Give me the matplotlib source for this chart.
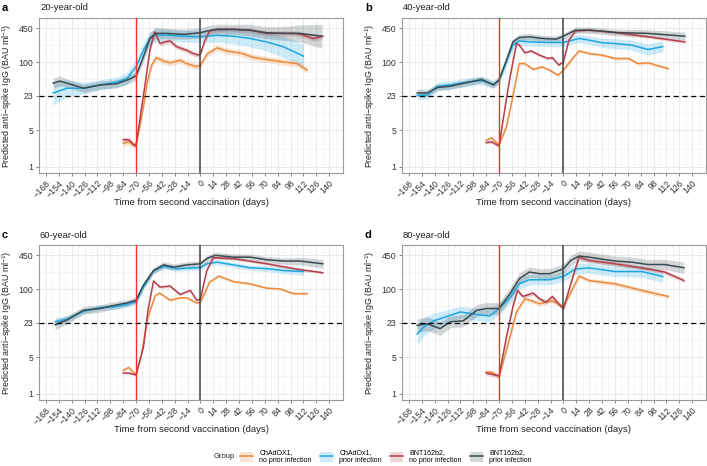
import matplotlib
matplotlib.use('Agg')
import matplotlib.pyplot as plt
from matplotlib.patches import Patch
from matplotlib.lines import Line2D
import numpy as np

plt.rcParams['font.family'] = ['Liberation Sans', 'DejaVu Sans']
plt.rcParams['mathtext.default'] = 'regular'

# ---- data (days from 2nd dose, predicted IgG, ci factor) ----
# panel a, 20-year-old
a_chad_np_day = [-84, -78, -73, -70, -66, -62, -58, -53, -48, -40, -33, -22, -15, -4, 0, 7, 18, 29, 43, 58, 72, 90, 105, 116]
a_chad_np_igg = [2.8, 3.0, 2.6, 2.7, 5.8, 14, 40, 89, 124, 106, 98, 110, 95, 83, 88, 144, 190, 165, 152, 124, 114, 102, 95, 71]
a_chad_np_ci = [1.15] * 24
a_chad_p_day = [-160, -145, -127, -109, -91, -80, -70, -62, -55, -48, -37, -18, 0, 18, 36, 54, 72, 90, 112]
a_chad_p_igg = [26, 32, 32, 37, 42, 49, 82, 171, 288, 333, 333, 318, 310, 330, 318, 288, 247, 200, 132]
a_chad_p_ci = [1.7, 1.45, 1.3, 1.25, 1.25, 1.3, 1.35, 1.35, 1.35, 1.35, 1.3, 1.3, 1.3, 1.35, 1.4, 1.45, 1.5, 1.6, 1.7]
a_bnt_np_day = [-84, -78, -73, -70, -66, -60, -55, -50, -48, -44, -38, -33, -26, -15, -8, -2, 0, 5, 10, 18, 36, 54, 72, 90, 101, 108, 123, 133]
a_bnt_np_igg = [3.3, 3.3, 2.7, 2.5, 7.8, 40, 170, 375, 333, 230, 247, 258, 200, 171, 148, 138, 145, 267, 400, 428, 430, 415, 360, 360, 360, 350, 287, 318]
a_bnt_np_ci = [1.12] * 28
a_bnt_p_day = [-160, -153, -145, -127, -109, -91, -77, -70, -62, -55, -49, -37, -18, 0, 7, 18, 36, 54, 72, 90, 108, 132]
a_bnt_p_igg = [40, 44, 40, 32, 37, 39, 48, 55, 128, 288, 360, 360, 345, 370, 400, 430, 430, 415, 370, 360, 360, 318]
a_bnt_p_ci = [1.25, 1.25, 1.2, 1.2, 1.2, 1.2, 1.2, 1.2, 1.25, 1.3, 1.3, 1.25, 1.25, 1.25, 1.25, 1.25, 1.25, 1.3, 1.3, 1.35, 1.45, 1.7]

# panel b, 40-year-old
b_chad_np_day = [-84, -78, -70, -62, -55, -48, -42, -33, -23, -15, -6, 0, 10, 17, 28, 42, 56, 71, 81, 92, 114]
b_chad_np_igg = [3.2, 3.6, 2.6, 5.8, 22, 95, 95, 74, 82, 71, 57, 71, 119, 166, 148, 138, 119, 119, 95, 98, 76]
b_chad_np_ci = [1.07] * 21
b_chad_p_day = [-159, -148, -137, -123, -105, -89, -76, -70, -62, -55, -48, -37, -15, 0, 17, 28, 42, 56, 74, 92, 108]
b_chad_p_igg = [23.6, 23.6, 35, 37, 42, 45, 38, 46, 103, 215, 258, 247, 241, 241, 288, 267, 238, 230, 215, 177, 200]
b_chad_p_ci = [1.2] * 14 + [1.2, 1.2, 1.22, 1.25, 1.25, 1.28, 1.28]
b_bnt_np_day = [-84, -78, -70, -64, -58, -51, -48, -42, -35, -26, -17, -12, -5, 0, 6, 13, 28, 56, 92, 132]
b_bnt_np_igg = [2.9, 3.0, 2.5, 12, 53, 230, 215, 153, 166, 138, 119, 124, 89, 103, 267, 400, 415, 375, 310, 247]
b_bnt_np_ci = [1.07] * 20
b_bnt_p_day = [-159, -148, -137, -123, -105, -89, -76, -70, -62, -55, -48, -37, -23, -8, 0, 13, 28, 42, 56, 92, 132]
b_bnt_p_igg = [26, 26, 33, 35, 41, 47, 37, 46, 110, 247, 300, 310, 288, 280, 318, 415, 415, 398, 375, 360, 318]
b_bnt_p_ci = [1.2, 1.18, 1.15, 1.15, 1.15, 1.15, 1.15, 1.15, 1.15, 1.15, 1.15, 1.15, 1.15, 1.15, 1.15, 1.15, 1.15, 1.15, 1.15, 1.18, 1.2]

# panel c, 60-year-old
c_chad_np_day = [-84, -78, -70, -64, -57, -49, -44, -33, -22, -15, -4, 0, 10, 20, 36, 54, 72, 87, 101, 116]
c_chad_np_igg = [2.8, 3.2, 2.3, 5.8, 30, 77, 85, 62, 69, 69, 55, 57, 138, 180, 141, 128, 106, 102, 83, 83]
c_chad_np_ci = [1.06] * 20
c_chad_p_day = [-158, -145, -127, -109, -95, -80, -70, -62, -51, -40, -26, 0, 7, 18, 36, 54, 72, 90, 112]
c_chad_p_igg = [24, 27, 38, 45, 46, 51, 58, 111, 225, 276, 250, 260, 310, 333, 295, 260, 250, 230, 220]
c_chad_p_ci = [1.2, 1.15, 1.12, 1.12, 1.12, 1.12, 1.12, 1.12, 1.12, 1.12, 1.12, 1.12, 1.12, 1.12, 1.12, 1.12, 1.14, 1.15, 1.18]
c_bnt_np_day = [-84, -78, -70, -62, -57, -51, -44, -33, -22, -11, -4, 0, 7, 14, 36, 72, 108, 133]
c_bnt_np_igg = [2.5, 2.5, 2.3, 7.8, 40, 145, 111, 116, 80, 96, 62, 66, 230, 405, 390, 310, 240, 209]
c_bnt_np_ci = [1.06] * 18
c_bnt_p_day = [-158, -145, -127, -109, -95, -80, -70, -62, -51, -40, -29, -15, 0, 7, 16, 36, 54, 72, 90, 108, 133]
c_bnt_p_igg = [21, 26, 40, 43, 49, 55, 62, 120, 230, 295, 268, 295, 310, 390, 450, 415, 415, 370, 350, 350, 310]
c_bnt_p_ci = [1.25, 1.2, 1.18, 1.18, 1.18, 1.15, 1.15, 1.15, 1.15, 1.15, 1.15, 1.15, 1.15, 1.15, 1.15, 1.15, 1.15, 1.15, 1.15, 1.18, 1.22]

# panel d, 80-year-old
d_chad_np_day = [-84, -78, -70, -62, -51, -42, -35, -26, -19, -12, 0, 10, 17, 28, 56, 85, 114]
d_chad_np_igg = [2.6, 2.6, 2.1, 6.8, 37, 66, 61, 53, 57, 60, 46, 103, 180, 148, 128, 96, 73]
d_chad_np_ci = [1.1] * 17
d_chad_p_day = [-159, -152, -141, -130, -112, -94, -80, -70, -58, -48, -37, -15, 0, 13, 28, 56, 85, 108]
d_chad_p_igg = [14, 19, 25, 29, 37, 33, 31, 43, 69, 129, 153, 153, 177, 247, 258, 220, 220, 177]
d_chad_p_ci = [1.6, 1.5, 1.4, 1.35, 1.3, 1.3, 1.3, 1.3, 1.3, 1.28, 1.25, 1.25, 1.25, 1.25, 1.25, 1.25, 1.28, 1.3]
d_bnt_np_day = [-84, -70, -62, -55, -50, -44, -33, -26, -19, -12, -6, 0, 8, 17, 28, 56, 92, 110, 131]
d_bnt_np_igg = [2.5, 2.2, 12, 46, 96, 73, 85, 66, 57, 73, 55, 43, 128, 415, 360, 310, 247, 215, 148]
d_bnt_np_ci = [1.1] * 19
d_bnt_p_day = [-159, -148, -134, -123, -109, -94, -84, -70, -58, -48, -37, -26, -15, 0, 8, 17, 28, 56, 74, 92, 110, 131]
d_bnt_p_igg = [20.4, 22, 17.7, 24, 25, 40, 43, 43, 83, 160, 215, 200, 200, 247, 360, 436, 415, 350, 333, 300, 300, 260]
d_bnt_p_ci = [1.35, 1.35, 1.35, 1.3, 1.3, 1.3, 1.3, 1.3, 1.3, 1.3, 1.25, 1.25, 1.25, 1.25, 1.25, 1.25, 1.25, 1.25, 1.25, 1.25, 1.25, 1.28]

panel_letters = ['a', 'b', 'c', 'd']
panel_titles = ['20-year-old', '40-year-old', '60-year-old', '80-year-old']
group_names = ['ChAdOX1,\nno prior infection', 'ChAdOx1,\nprior infection',
               'BNT162b2,\nno prior infection', 'BNT162b2,\nprior infection']
group_colors = ['#EB8A3C', '#1EA8E0', '#B5404B', '#3A4A51']

x_ticks = list(range(-168, 141, 14))
y_ticks = [1, 5, 23, 100, 450]

panels = [
    [(a_chad_np_day, a_chad_np_igg, a_chad_np_ci), (a_chad_p_day, a_chad_p_igg, a_chad_p_ci),
     (a_bnt_np_day, a_bnt_np_igg, a_bnt_np_ci), (a_bnt_p_day, a_bnt_p_igg, a_bnt_p_ci)],
    [(b_chad_np_day, b_chad_np_igg, b_chad_np_ci), (b_chad_p_day, b_chad_p_igg, b_chad_p_ci),
     (b_bnt_np_day, b_bnt_np_igg, b_bnt_np_ci), (b_bnt_p_day, b_bnt_p_igg, b_bnt_p_ci)],
    [(c_chad_np_day, c_chad_np_igg, c_chad_np_ci), (c_chad_p_day, c_chad_p_igg, c_chad_p_ci),
     (c_bnt_np_day, c_bnt_np_igg, c_bnt_np_ci), (c_bnt_p_day, c_bnt_p_igg, c_bnt_p_ci)],
    [(d_chad_np_day, d_chad_np_igg, d_chad_np_ci), (d_chad_p_day, d_chad_p_igg, d_chad_p_ci),
     (d_bnt_np_day, d_bnt_np_igg, d_bnt_np_ci), (d_bnt_p_day, d_bnt_p_igg, d_bnt_p_ci)],
]

W, H = 707, 466
fig = plt.figure(figsize=(W / 100, H / 100), dpi=100)

# axes boxes in pixels: left, top, width, height
boxes = [(39, 18, 304, 155), (402, 18, 304, 155), (39, 245, 304, 155), (402, 245, 304, 155)]

for k in range(4):
    l, t, w, h = boxes[k]
    ax = fig.add_axes([l / W, 1 - (t + h) / H, w / W, h / H])
    ax.set_yscale('log')
    ax.set_xlim(-175.5, 155)
    ax.set_ylim(0.76, 710)

    # grid like ggplot
    for xv in x_ticks:
        ax.axvline(xv, color='#E6E6E6', lw=0.6, zorder=0)
        ax.axvline(xv + 7, color='#F0F0F0', lw=0.4, zorder=0)
    ax.axvline(-175, color='#F0F0F0', lw=0.4, zorder=0)
    for yv in y_ticks:
        ax.axhline(yv, color='#E6E6E6', lw=0.6, zorder=0)
    for i in range(len(y_ticks) - 1):
        ax.axhline(np.sqrt(y_ticks[i] * y_ticks[i + 1]), color='#F0F0F0', lw=0.4, zorder=0)

    for g in range(4):
        d, v, c = panels[k][g]
        d = np.array(d, dtype=float)
        v = np.array(v, dtype=float)
        c = np.array(c, dtype=float)
        ax.fill_between(d, v / c, v * c, color=group_colors[g], alpha=0.22, lw=0, zorder=2 + g)
        ax.plot(d, v, color=group_colors[g], lw=1.1, zorder=6 + g)

    ax.axvline(-70, color='#FF2A2A', lw=1.0, zorder=12)
    ax.axvline(0, color='#444444', lw=1.1, zorder=12)
    ax.axhline(23, color='black', lw=0.9, ls=(0, (4, 3)), zorder=12)

    ax.set_xticks(x_ticks)
    ax.set_xticklabels([str(x).replace('-', '\u2212') for x in x_ticks],
                       rotation=45, ha='right', rotation_mode='anchor', fontsize=6.3, color='#333333')
    ax.set_yticks(y_ticks)
    ax.set_yticklabels([str(y) for y in y_ticks], fontsize=6.3, color='#333333')
    ax.yaxis.set_minor_locator(matplotlib.ticker.NullLocator())
    ax.tick_params(length=2, width=0.5, color='#555555', pad=2)
    for s in ax.spines.values():
        s.set_color('#9A9A9A')
        s.set_linewidth(0.8)

    ax.set_xlabel('Time from second vaccination (days)', fontsize=6.8, color='#222222')
    ax.xaxis.set_label_coords(0.5, -0.16)
    ax.set_ylabel('Predicted anti\u2212spike IgG (BAU ml$^{\u22121}$)', fontsize=6.4, color='#222222')
    ax.yaxis.set_label_coords(-0.082, 0.5)

    fig.text((l - 37) / W, 1 - (t - 10) / H, panel_letters[k], fontsize=8, fontweight='bold', va='center', ha='left')
    fig.text((l + 1) / W, 1 - (t - 10) / H, panel_titles[k], fontsize=6.8, va='center', ha='left', color='#222222')

# legend at the bottom
handles = []
for g in range(4):
    handles.append((Patch(facecolor=group_colors[g], alpha=0.22, edgecolor='none'),
                    Line2D([], [], color=group_colors[g], lw=1.1)))
fig.text(214 / W, 1 - 457 / H, 'Group', fontsize=5.5, va='center', ha='left', color='#222222')
leg = fig.legend(handles, group_names, loc='center left', bbox_to_anchor=(240 / W, 1 - 457 / H),
                 ncol=4, frameon=False, fontsize=5.0, handlelength=1.9, handleheight=1.9,
                 columnspacing=1.15, handletextpad=0.9, borderpad=0, borderaxespad=0)

fig.savefig('out.png', dpi=100)
